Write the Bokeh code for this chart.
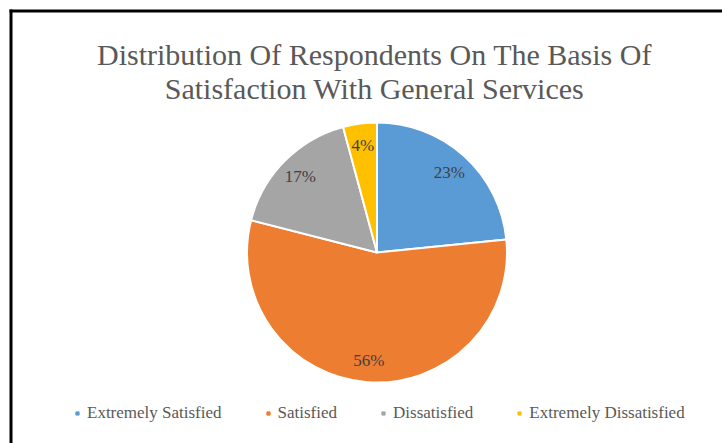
import numpy as np
from bokeh.plotting import figure
from bokeh.models import Range1d, Legend, LegendItem
from bokeh.core.properties import value
from bokeh.embed import file_html
from bokeh.resources import INLINE

# ---- data ----
categories = ["Extremely Satisfied", "Satisfied", "Dissatisfied", "Extremely Dissatisfied"]
shares = [23.4, 55.6, 16.8, 4.2]
colors = ["#5B9BD5", "#ED7D31", "#A5A5A5", "#FFC000"]
title_lines = ["Distribution Of Respondents On The Basis Of",
               "Satisfaction With General Services"]

W, H = 722, 443
FONT = "'Liberation Serif', serif"

p = figure(width=W, height=H, output_backend="svg", toolbar_location=None,
           x_range=Range1d(0, W), y_range=Range1d(0, H),
           x_axis_location=None, y_axis_location=None, min_border=0)
p.grid.visible = False
p.outline_line_color = None
p.background_fill_color = "white"
p.border_fill_color = "white"

# frame border (black, top and left visible)
p.segment(x0=[9, 10.5], y0=[H - 10.5, H - 9], x1=[W, 10.5], y1=[H - 10.5, 0],
          line_color="black", line_width=3)

# title
p.text(x=[374, 374], y=[H - 54, H - 87.5], text=title_lines,
       text_font=value(FONT), text_font_size="30px", text_color="#595959",
       text_align="center", text_baseline="alphabetic")

# pie
cx, cy, R = 376.5, H - 252, 130
frac = np.array(shares) / sum(shares)
cum = np.concatenate([[0], np.cumsum(frac)])
start = np.pi / 2 - 2 * np.pi * cum[:-1]
end = np.pi / 2 - 2 * np.pi * cum[1:]
p.wedge(x=cx, y=cy, radius=R, radius_units="screen",
        start_angle=start, end_angle=end, direction="clock",
        fill_color=colors, line_color="white", line_width=2)

mid = (start + end) / 2
lr = 0.83 * R
p.text(x=cx + lr * np.cos(mid), y=cy + lr * np.sin(mid),
       text=[f"{round(s)}%" for s in shares],
       text_font=value(FONT), text_font_size="17px", text_color="#404040",
       text_align="center", text_baseline="middle")

# legend (proxy square markers placed outside the visible range)
items = []
for cat, col in zip(categories, colors):
    r = p.scatter(x=[-100], y=[-100], marker="square", size=8,
                  fill_color=col, line_color=col)
    items.append(LegendItem(label=cat, renderers=[r]))
legend = Legend(items=items, orientation="horizontal", location=(73, 20),
                spacing=42, glyph_width=8, glyph_height=8, label_standoff=6,
                padding=0, margin=0, border_line_color=None, background_fill_alpha=0,
                label_text_font=FONT, label_text_font_size="17px",
                label_text_color="#595959")
p.add_layout(legend)

open("out.html", "w").write(file_html(p, INLINE))
